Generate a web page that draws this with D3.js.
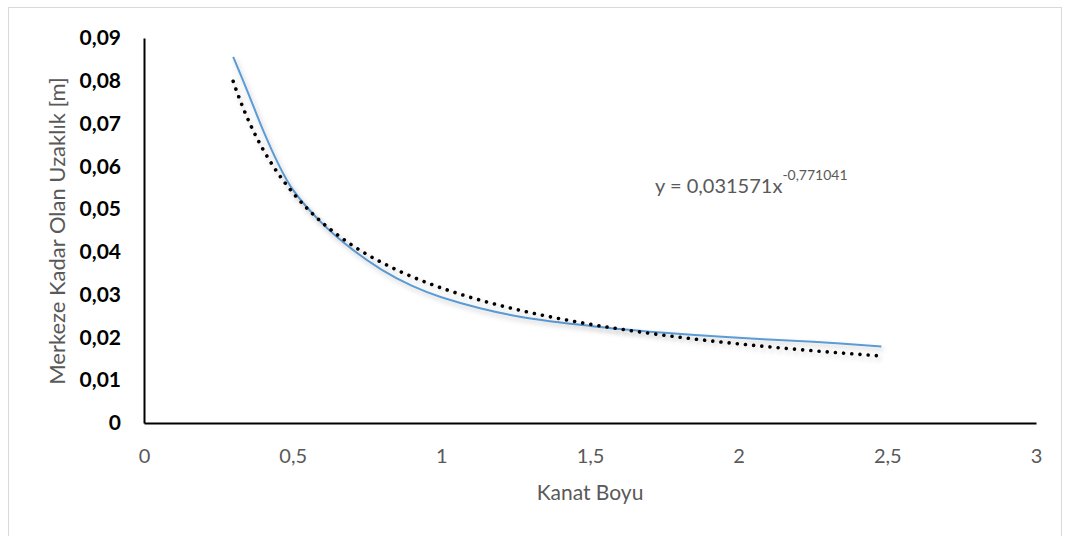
<!DOCTYPE html>
<html>
<head>
<meta charset="utf-8">
<script src="https://cdn.jsdelivr.net/npm/d3@7"></script>
<style>
  body { margin: 0; background: #fff; }
  svg { display: block; font-family: Lato, "Open Sans", sans-serif; }
</style>
</head>
<body>
<svg id="chart" width="1069" height="536"></svg>
<script>
// measured values (Kanat Boyu vs Merkeze Kadar Olan Uzaklik)
const kanatBoyu = [0.30, 0.35, 0.40, 0.45, 0.50, 0.60, 0.70, 0.80, 0.90, 1.00, 1.25, 1.50, 1.75, 2.00, 2.25, 2.48];
const uzaklik   = [0.0856, 0.0772, 0.0685, 0.0608, 0.0546, 0.0466, 0.0406, 0.0358, 0.0321, 0.0294, 0.0250, 0.0227, 0.0211, 0.0199, 0.0190, 0.0179];

// power trendline shown on chart
const trendA = 0.031571;
const trendB = -0.771041;

const xTicks = [0, 0.5, 1, 1.5, 2, 2.5, 3];
const yTicks = [0, 0.01, 0.02, 0.03, 0.04, 0.05, 0.06, 0.07, 0.08, 0.09];

const trLocale = d3.formatLocale({ decimal: ",", thousands: ".", grouping: [3], currency: ["", "₺"] });
const fmtX = trLocale.format("~g");
const fmtY = v => v === 0 ? "0" : trLocale.format(".2f")(v);

const svg = d3.select("#chart");
const margin = { left: 144, right: 1036, top: 38, bottom: 423 };

const x = d3.scaleLinear().domain([0, 3]).range([margin.left, margin.right]);
const y = d3.scaleLinear().domain([0, 0.09]).range([margin.bottom, margin.top]);

// outer chart border
svg.append("rect")
  .attr("x", 8.5).attr("y", 7.5)
  .attr("width", 1053).attr("height", 540)
  .attr("fill", "#fff")
  .attr("stroke", "#d9d9d9");

// shadow filter
const defs = svg.append("defs");
const f = defs.append("filter").attr("id", "shadow")
  .attr("x", "-10%").attr("y", "-10%").attr("width", "130%").attr("height", "130%");
f.append("feDropShadow")
  .attr("dx", 2).attr("dy", 3).attr("stdDeviation", 2.5)
  .attr("flood-color", "#000").attr("flood-opacity", 0.22);

// axes
const yAxis = svg.append("g")
  .attr("transform", `translate(${margin.left},0)`)
  .call(d3.axisLeft(y).tickValues(yTicks).tickFormat(fmtY).tickSize(0).tickPadding(23));
yAxis.select(".domain").attr("stroke", "#000").attr("stroke-width", 2);
yAxis.selectAll("text")
  .attr("font-size", 21).attr("font-weight", "bold").attr("fill", "#000")
  .attr("font-family", "Lato, 'Open Sans', sans-serif");

const xAxis = svg.append("g")
  .attr("transform", `translate(0,${margin.bottom})`)
  .call(d3.axisBottom(x).tickValues(xTicks).tickFormat(fmtX).tickSize(0).tickPadding(26));
xAxis.select(".domain").attr("stroke", "#000").attr("stroke-width", 2);
xAxis.selectAll("text")
  .attr("font-size", 20).attr("fill", "#595959")
  .attr("font-family", "Lato, 'Open Sans', sans-serif");

// axis titles
svg.append("text")
  .attr("x", 590).attr("y", 500)
  .attr("text-anchor", "middle")
  .attr("font-size", 21).attr("fill", "#595959")
  .text("Kanat Boyu");

svg.append("text")
  .attr("transform", "translate(65,231) rotate(-90)")
  .attr("text-anchor", "middle")
  .attr("font-size", 22).attr("fill", "#595959")
  .text("Merkeze Kadar Olan Uzaklık [m]");

// data series
const pts = kanatBoyu.map((k, i) => [k, uzaklik[i]]);
const line = d3.line()
  .x(d => x(d[0])).y(d => y(d[1]))
  .curve(d3.curveCatmullRom.alpha(0.5));

svg.append("path")
  .datum(pts)
  .attr("d", line)
  .attr("fill", "none")
  .attr("stroke", "#5b9bd5")
  .attr("stroke-width", 2)
  .attr("filter", "url(#shadow)");

// trendline from the equation, across the data's x range
const xs = d3.range(0, 201).map(i => kanatBoyu[0] + (kanatBoyu[kanatBoyu.length - 1] - kanatBoyu[0]) * i / 200);
svg.append("path")
  .datum(xs.map(v => [v, trendA * Math.pow(v, trendB)]))
  .attr("d", d3.line().x(d => x(d[0])).y(d => y(d[1])))
  .attr("fill", "none")
  .attr("stroke", "#000")
  .attr("stroke-width", 3.6)
  .attr("stroke-linecap", "round")
  .attr("stroke-dasharray", "0.01 8.2")
  .attr("filter", "url(#shadow)");

// equation label
const eq = svg.append("text")
  .attr("x", 655).attr("y", 193)
  .attr("font-size", 20).attr("fill", "#595959");
eq.append("tspan").text("y = 0,031571x");
eq.append("tspan")
  .attr("dy", -13).attr("font-size", 14)
  .text("-0,771041");
</script>
</body>
</html>
